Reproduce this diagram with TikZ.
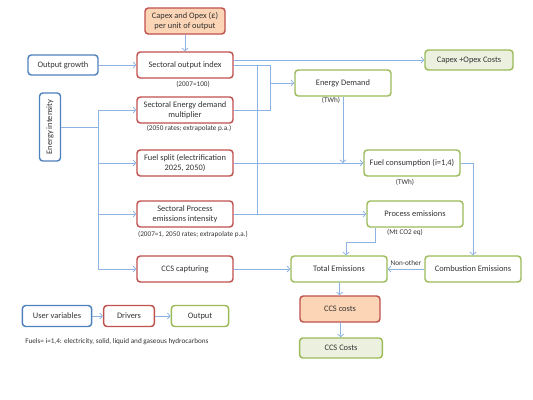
\documentclass[tikz,border=0pt]{standalone}
\usepackage{fontspec}
\setmainfont{Carlito}
\usetikzlibrary{arrows.meta}
\definecolor{bordblue}{HTML}{4F81BD}
\definecolor{bordred}{HTML}{C0504D}
\definecolor{bordgreen}{HTML}{9BBB59}
\definecolor{fillorange}{HTML}{FBD5B5}
\definecolor{fillgreen}{HTML}{EBF1DE}
\definecolor{linkblue}{HTML}{8DB3E2}
\tikzset{
	box/.style={draw,rounded corners=2.5pt,line width=1.1pt,align=center,font=\fontsize{6.3}{7.6}\selectfont,text=black!80,inner sep=1pt},
	uservar/.style={box,draw=bordblue,fill=white},
	driver/.style={box,draw=bordred,fill=white},
	result/.style={box,draw=bordgreen,fill=white},
	wide/.style={minimum width=72pt,minimum height=19.5pt},
	note/.style={font=\fontsize{5.4}{6.4}\selectfont,text=black!80,inner sep=0pt},
	wire/.style={draw=linkblue,line width=0.6pt},
	link/.style={wire,-{Straight Barb[length=2pt,width=4.5pt]}}
}
\begin{document}
\begin{tikzpicture}[x=0.75pt,y=-0.75pt]
	\useasboundingbox (0,0) rectangle (533,400);
	\node[driver,fill=fillorange,minimum width=60pt,minimum height=19.5pt] (capex) at (185,21) {Capex and Opex (£)\\per unit of output};
	\node[uservar,minimum width=52.5pt,minimum height=15pt] (growth) at (63,65) {Output growth};
	\node[driver,wide] (index) at (185,65) {Sectoral output index};
	\node[result,fill=fillgreen,minimum width=66pt,minimum height=15pt] (capcost) at (469,60) {Capex +Opex Costs};
	\node[result,wide] (demand) at (343,83) {Energy Demand};
	\node[uservar,rotate=90,minimum width=51pt,minimum height=15.75pt] (intensity) at (50,127) {Energy intensity};
	\node[driver,wide] (multiplier) at (185,110) {Sectoral Energy demand\\multiplier};
	\node[driver,wide] (split) at (185,163) {Fuel split (electrification\\2025, 2050)};
	\node[result,wide] (fuel) at (412,163) {Fuel consumption (i=1,4)};
	\node[driver,wide] (procint) at (185,214) {Sectoral Process\\emissions intensity};
	\node[result,wide] (procem) at (415,214) {Process emissions};
	\node[driver,wide] (ccscap) at (185,269) {CCS capturing};
	\node[result,wide] (total) at (339,269) {Total Emissions};
	\node[result,wide] (combust) at (473,269) {Combustion Emissions};
	\node[driver,fill=fillorange,minimum width=60pt,minimum height=19.5pt] (ccscost) at (340,309) {CCS costs};
	\node[result,fill=fillgreen,minimum width=62pt,minimum height=15pt] (ccsout) at (341,348) {CCS Costs};
	\node[uservar,minimum width=52pt,minimum height=15.75pt] (user) at (57,316) {User variables};
	\node[driver,minimum width=38pt,minimum height=15.75pt] (drivers) at (129,316) {Drivers};
	\node[result,minimum width=43pt,minimum height=15.75pt] (output) at (200,316) {Output};

	\node[note] (n1) at (193,84) {(2007=100)};
	\node[note] (n2) at (189,128) {(2050 rates; extrapolate p.a.)};
	\node[note] (n3) at (331,100) {(TWh)};
	\node[note] (n4) at (405,182) {(TWh)};
	\node[note] (n5) at (193,234) {(2007=1, 2050 rates; extrapolate p.a.)};
	\node[note] (n6) at (405,232) {(Mt CO2 eq)};
	\node[note,anchor=west] (fuels) at (25,342) {Fuels= i=1,4: electricity, solid, liquid and gaseous hydrocarbons};

	\coordinate (jd) at (270,83);
	\coordinate (jp) at (257,0);
	\coordinate (ji) at (98,127);
	\draw[link] (capex) -- (index);
	\draw[link] (growth) -- (index);
	\draw[link] (index.east |- capcost) -- (capcost);
	\draw[wire] (index.east) -| (jd);
	\draw[wire] (multiplier.east) -| (jd);
	\draw[link] (jd) -- (demand.west);
	\draw[wire] (index.east -| jp) -- (procint.east -| jp);
	\draw[link] (demand) -- (demand |- split);
	\draw[link] (split) -- (fuel);
	\draw[link] (procint) -- (procem);
	\draw[wire] (intensity.south) -- (ji);
	\draw[wire] (ji |- multiplier) -- (ji |- ccscap);
	\foreach \n in {multiplier,split,procint,ccscap}
		\draw[link] (ji |- \n) -- (\n);
	\draw[link] (ccscap) -- (total);
	\draw[link] ([xshift=-30pt]procem.south) -- ++(0,15) -| ([xshift=5.25pt]total.north);
	\draw[link] (fuel.east) -| (combust.north);
	\draw[link] (combust) -- node[note,above=2pt] {Non-other} (total);
	\draw[link] (total) -- (ccscost);
	\draw[link] (ccscost) -- (ccsout);
	\draw[link] (user) -- (drivers);
	\draw[link] (drivers) -- (output);
\end{tikzpicture}
\end{document}
